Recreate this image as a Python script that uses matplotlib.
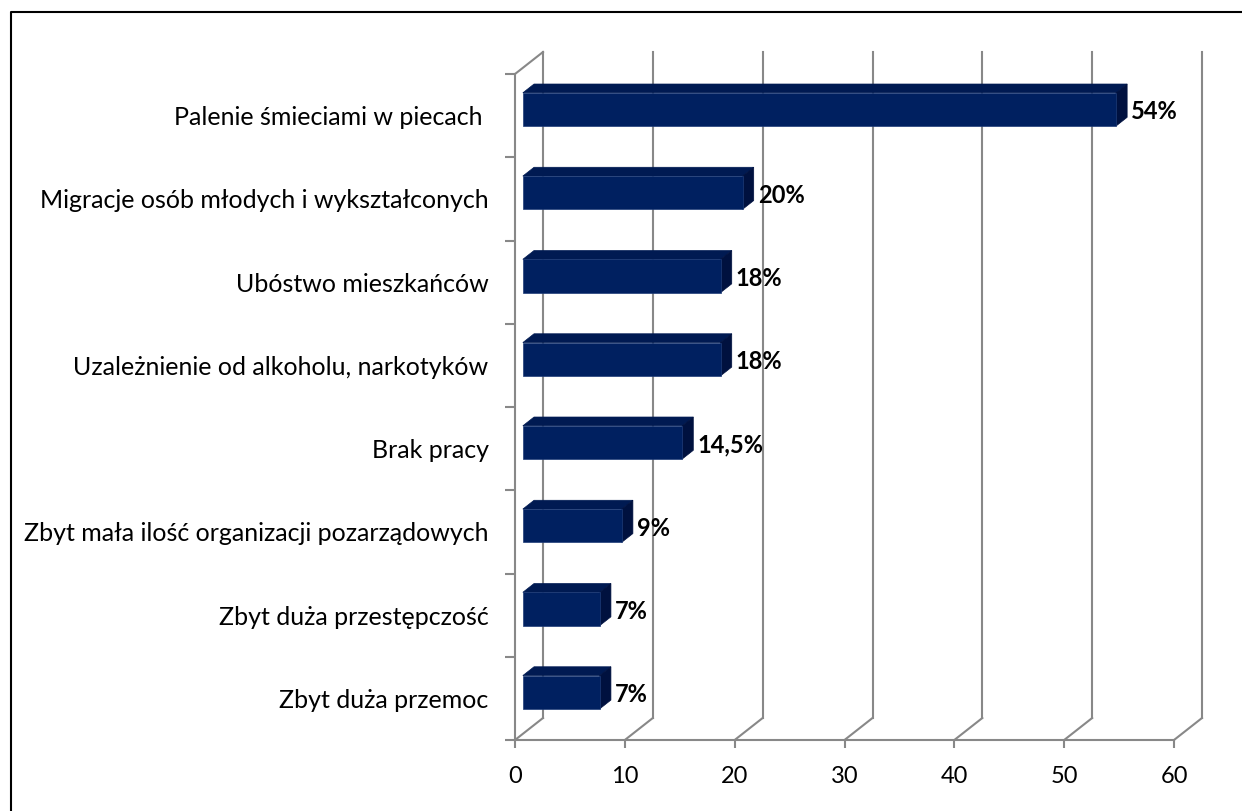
import matplotlib.pyplot as plt
from matplotlib.lines import Line2D
from matplotlib.patches import Polygon

plt.rcParams["font.family"] = ["Lato", "DejaVu Sans"]

# data, listed from the bottom row to the top row
categories = [
    "Zbyt duża przemoc",
    "Zbyt duża przestępczość",
    "Zbyt mała ilość organizacji pozarządowych",
    "Brak pracy",
    "Uzależnienie od alkoholu, narkotyków",
    "Ubóstwo mieszkańców",
    "Migracje osób młodych i wykształconych",
    "Palenie śmieciami w piecach ",
]
values = [7, 7, 9, 14.5, 18, 18, 20, 54]
value_labels = ["7%", "7%", "9%", "14,5%", "18%", "18%", "20%", "54%"]
x_ticks = [0, 10, 20, 30, 40, 50, 60]

W, H = 1242, 811
GRAY = "#888888"
FRONT = "#002060"
TOP = "#001a52"
SIDE = "#00113f"

fig = plt.figure(figsize=(W / 100, H / 100), dpi=100)
ax = fig.add_axes([515 / W, 1 - 740 / H, (1174 - 515) / W, (740 - 74) / H])
n = len(categories)
xmax = x_ticks[-1]
ax.set_xlim(0, xmax)
ax.set_ylim(0, n)

# oblique depth vector (one full depth unit) in data units
px_x = (1174 - 515) / xmax
px_y = (740 - 74) / n
DX = 28 / px_x
DY = 22 / px_y


def proj(v, c, d):
    return (v + d * DX, c + d * DY)


lw = 1.5
# back wall gridlines and floor diagonals
for v in x_ticks:
    ax.add_line(Line2D(*zip(proj(v, 0, 1), proj(v, n, 1)), color=GRAY, lw=lw, clip_on=False))
    ax.add_line(Line2D(*zip(proj(v, 0, 0), proj(v, 0, 1)), color=GRAY, lw=lw, clip_on=False))
# top edge of left wall
ax.add_line(Line2D(*zip(proj(0, n, 0), proj(0, n, 1)), color=GRAY, lw=lw, clip_on=False))

# 3D bars
f0, f1, h = 0.28, 0.68, 0.2
for i, (v, lab) in enumerate(zip(values, value_labels)):
    c = i + 0.5
    front = [proj(0, c - h, f0), proj(v, c - h, f0), proj(v, c + h, f0), proj(0, c + h, f0)]
    top = [proj(0, c + h, f0), proj(v, c + h, f0), proj(v, c + h, f1), proj(0, c + h, f1)]
    side = [proj(v, c - h, f0), proj(v, c - h, f1), proj(v, c + h, f1), proj(v, c + h, f0)]
    ax.add_patch(Polygon(top, closed=True, fc=TOP, ec=TOP, lw=0.5, clip_on=False, zorder=3))
    ax.add_patch(Polygon(side, closed=True, fc=SIDE, ec=SIDE, lw=0.5, clip_on=False, zorder=3))
    ax.add_patch(Polygon(front, closed=True, fc=FRONT, ec="#1f3c78", lw=0.5, clip_on=False, zorder=4))
    ax.annotate(lab, xy=(v + f1 * DX, c + 0.045), xytext=(3, 0), textcoords="offset points",
                ha="left", va="center", fontsize=17, fontweight="bold", color="black",
                annotation_clip=False, zorder=5)

for s in ["top", "right"]:
    ax.spines[s].set_visible(False)
for s in ["left", "bottom"]:
    ax.spines[s].set_color(GRAY)
    ax.spines[s].set_linewidth(lw)
    ax.spines[s].set_zorder(2)

ax.set_xticks(x_ticks)
ax.set_xticklabels([str(t) for t in x_ticks])
ax.tick_params(axis="x", length=6, width=lw, color=GRAY, pad=13, labelsize=17)
ax.set_yticks(range(n + 1))
ax.set_yticklabels([])
ax.tick_params(axis="y", which="major", length=7, width=lw, color=GRAY)
ax.set_yticks([i + 0.5 for i in range(n)], minor=True)
ax.set_yticklabels(categories, minor=True)
ax.tick_params(axis="y", which="minor", length=0, pad=19, labelsize=18)
ax.set_facecolor("none")

# outer chart border (only top and left edges are inside the picture)
fig.add_artist(Line2D([11 / W, 11 / W, 1], [0, 1 - 12 / H, 1 - 12 / H],
                      transform=fig.transFigure, color="black", lw=1.5))

fig.savefig("out.png", dpi=100)
